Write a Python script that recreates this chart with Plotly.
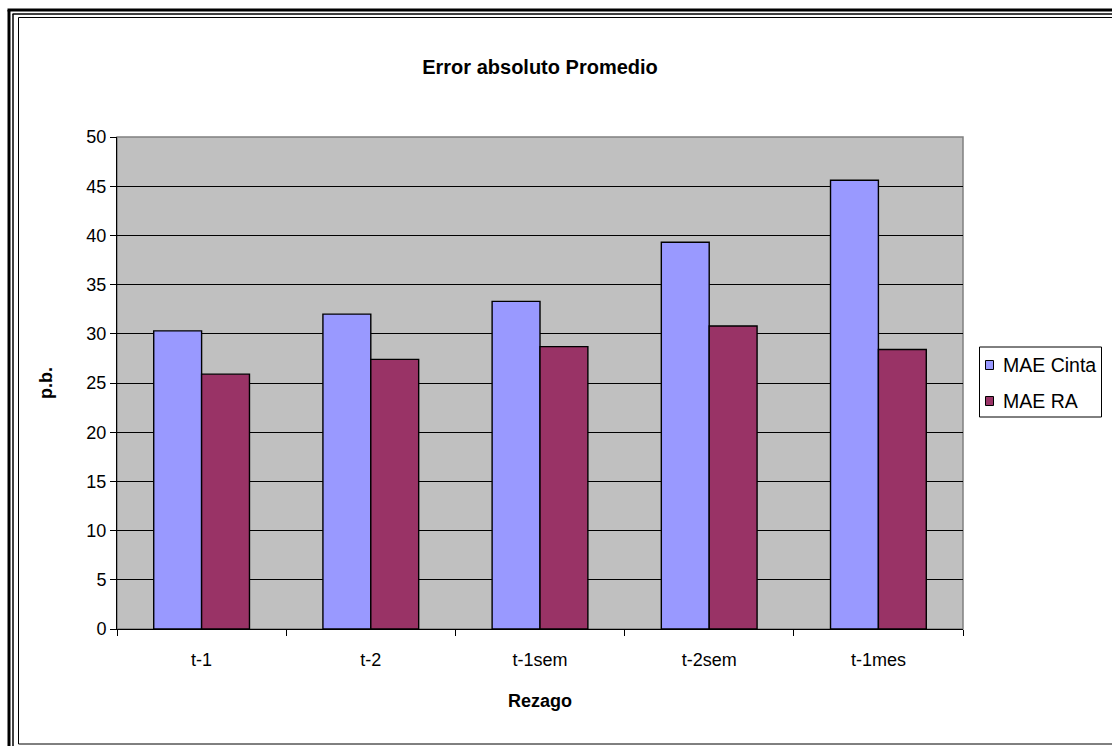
import plotly.graph_objects as go

# Lag categories and mean absolute error (basis points) for each method
categories = ["t-1", "t-2", "t-1sem", "t-2sem", "t-1mes"]
mae_cinta = [30.3, 32.0, 33.3, 39.3, 45.6]
mae_ra = [25.9, 27.4, 28.7, 30.8, 28.4]
y_ticks = [0, 5, 10, 15, 20, 25, 30, 35, 40, 45, 50]
series_names = ["MAE Cinta", "MAE RA"]
series_colors = ["#9999FF", "#993366"]

FONT = "Arial, Liberation Sans, sans-serif"
W, H = 1112, 746
L, R, T, B = 117, 149, 137, 117
PW, PH = W - L - R, H - T - B


def px_x(p):
    return (p - L) / PW


def px_y(p):
    return (H - B - p) / PH


fig = go.Figure()
for name, vals, col in zip(series_names, [mae_cinta, mae_ra], series_colors):
    fig.add_trace(go.Bar(
        name=name, x=categories, y=vals,
        marker=dict(color=col, line=dict(color="black", width=1.4)),
        showlegend=False,
    ))

shapes = [
    # grey frame of the plot area
    dict(type="rect", xref="paper", yref="paper", x0=0, x1=1, y0=0, y1=1,
         line=dict(color="#808080", width=1.5), layer="below"),
    # page border: thick outer line, thin line, inner frame
    dict(type="line", xref="paper", yref="paper",
         x0=px_x(9), x1=px_x(9), y0=px_y(10), y1=px_y(760),
         line=dict(color="black", width=3)),
    dict(type="line", xref="paper", yref="paper",
         x0=px_x(7.5), x1=px_x(1130), y0=px_y(10), y1=px_y(10),
         line=dict(color="black", width=3)),
    dict(type="line", xref="paper", yref="paper",
         x0=px_x(13), x1=px_x(13), y0=px_y(14), y1=px_y(760),
         line=dict(color="black", width=1.5)),
    dict(type="line", xref="paper", yref="paper",
         x0=px_x(12.5), x1=px_x(1130), y0=px_y(14), y1=px_y(14),
         line=dict(color="black", width=1.5)),
    dict(type="rect", xref="paper", yref="paper",
         x0=px_x(18.5), x1=px_x(1130), y0=px_y(744), y1=px_y(17.5),
         line=dict(color="black", width=1)),
    # legend box
    dict(type="rect", xref="paper", yref="paper",
         x0=px_x(979.5), x1=px_x(1101.5), y0=px_y(417), y1=px_y(347),
         line=dict(color="black", width=1), fillcolor="white"),
]

annotations = []
legend_rows = [365, 401]
for name, col, yc in zip(series_names, series_colors, legend_rows):
    shapes.append(dict(type="rect", xref="paper", yref="paper",
                       x0=px_x(985.5), x1=px_x(993.5),
                       y0=px_y(yc + 4.5), y1=px_y(yc - 4.5),
                       line=dict(color="black", width=1), fillcolor=col))
    annotations.append(dict(text=name, xref="paper", yref="paper",
                            x=px_x(1001), y=px_y(yc), xanchor="left",
                            yanchor="middle", showarrow=False,
                            font=dict(family=FONT, size=19.5, color="black")))

fig.update_layout(
    width=W, height=H,
    margin=dict(l=L, r=R, t=T, b=B, pad=0),
    paper_bgcolor="white",
    plot_bgcolor="#C0C0C0",
    font=dict(family=FONT, size=18, color="black"),
    barmode="group",
    bargap=0.434,
    bargroupgap=0,
    title=dict(text="<b>Error absoluto Promedio</b>", x=0.5, xref="paper",
               xanchor="center", y=1 - 67 / H, yanchor="middle",
               font=dict(family=FONT, size=20, color="black")),
    shapes=shapes,
    annotations=annotations,
)

fig.update_xaxes(
    type="category",
    showline=True, linecolor="black", linewidth=1,
    ticks="outside", tickson="boundaries", ticklen=6, tickcolor="black",
    ticklabelstandoff=14,
    tickfont=dict(family=FONT, size=18, color="black"),
    showgrid=False,
    title=dict(text="<b>Rezago</b>", standoff=25,
               font=dict(family=FONT, size=18, color="black")),
)
fig.update_yaxes(
    range=[0, 50], tickvals=y_ticks,
    showline=True, linecolor="black", linewidth=1,
    ticks="outside", ticklen=6, tickcolor="black",
    tickfont=dict(family=FONT, size=18, color="black"),
    showgrid=True, gridcolor="black", gridwidth=1,
    zeroline=False,
    title=dict(text="<b>p.b.</b>", standoff=29,
               font=dict(family=FONT, size=18, color="black")),
)

fig.write_html("out.html")
